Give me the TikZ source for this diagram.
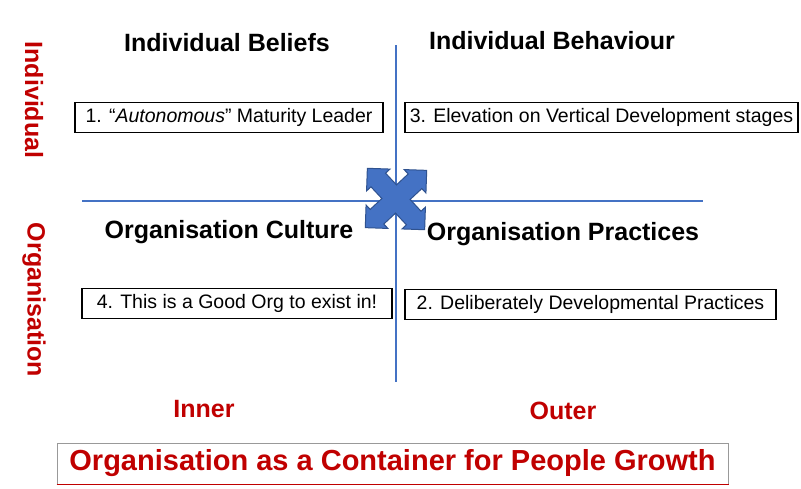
\documentclass[tikz,border=0pt]{standalone}
\usepackage{fontspec}
\setmainfont{Liberation Sans}
\definecolor{axisblue}{HTML}{4472C4}
\definecolor{arrowedge}{HTML}{2F528F}
\definecolor{darkred}{HTML}{C00000}

\begin{document}
\begin{tikzpicture}[x=1pt,y=-1pt,
  heading/.style={font=\fontsize{25}{28}\selectfont\bfseries,inner sep=0pt},
  sidelabel/.style={font=\fontsize{25}{28}\selectfont\bfseries,text=darkred,inner sep=0pt},
  itembox/.style={draw,line width=1.1pt,font=\fontsize{19.5}{22}\selectfont,minimum height=30pt,inner sep=0pt}]
\useasboundingbox (0,0) rectangle (801,488);

% axes
\draw[axisblue,line width=2.8pt] (396,45) -- (396,382);
\draw[axisblue,line width=2.8pt] (82,201) -- (703,201);

% quadrant headings
\node[heading] (beliefs) at (227,43) {Individual Beliefs};
\node[heading] (behaviour) at (552,41) {Individual Behaviour};
\node[heading] (culture) at (229,232) {Organisation Culture};
\node[heading] (practices) at (563,234) {Organisation Practices};

% quadrant items
\node[itembox,minimum width=308pt] (item1) at (229,117.5) {1. “\textit{Autonomous}” Maturity Leader};
\node[itembox,minimum width=393pt] (item3) at (601.5,117.5) {3. Elevation on Vertical Development stages};
\node[itembox,minimum width=310pt] (item4) at (237,303.5) {4. This is a Good Org to exist in!};
\node[itembox,minimum width=371pt] (item2) at (590.5,304.5) {2. Deliberately Developmental Practices};

% side labels
\node[sidelabel,rotate=-90] (individual) at (34,100) {Individual};
\node[sidelabel,rotate=-90] (organisation) at (34,300) {Organisation};
\node[sidelabel] (inner) at (204,409) {Inner};
\node[sidelabel] (outer) at (563,411) {Outer};

% central four-way arrow
\begin{scope}[shift={(396,199)},rotate=43]
\fill[axisblue,draw=arrowedge,line width=1pt]
  (0,-42) -- (16,-26) -- (10,-26) -- (10,-10) -- (26,-10) -- (26,-16) -- (42,0)
  -- (26,16) -- (26,10) -- (10,10) -- (10,26) -- (16,26) -- (0,42)
  -- (-16,26) -- (-10,26) -- (-10,10) -- (-26,10) -- (-26,16) -- (-42,0)
  -- (-26,-16) -- (-26,-10) -- (-10,-10) -- (-10,-26) -- (-16,-26) -- cycle;
\end{scope}

% title
\node[draw=gray!80,line width=1pt,minimum width=671pt,minimum height=41pt,inner sep=0pt,
  font=\fontsize{29}{32}\selectfont\bfseries,text=darkred] (title) at (392.5,463.5)
  {Organisation as a Container for People Growth};
\draw[darkred,line width=1.5pt] (title.south west) -- (title.south east);
\end{tikzpicture}
\end{document}
